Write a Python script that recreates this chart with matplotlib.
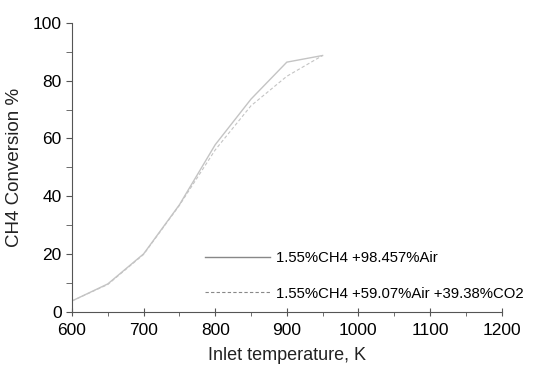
import matplotlib
matplotlib.use("Agg")
import matplotlib.pyplot as plt
from matplotlib.ticker import MultipleLocator

plt.rcParams['font.family'] = ['Liberation Sans', 'DejaVu Sans']

temps = [600, 650, 700, 750, 800, 850, 900, 950]
air = [3.7, 9.6, 20.0, 37.0, 57.8, 73.6, 86.4, 88.7]
co2 = [3.7, 9.4, 19.8, 36.8, 56.0, 71.3, 81.5, 88.7]
labels = ["1.55%CH4 +98.457%Air", "1.55%CH4 +59.07%Air +39.38%CO2"]

fig = plt.figure(figsize=(5.39, 3.75), dpi=100)
ax = fig.add_axes([0.1336, 0.169, 0.797, 0.770])
l1, = ax.plot(temps, air, color='#c4c4c4', lw=1.0, ls='-', label=labels[0])
l2, = ax.plot(temps, co2, color='#c4c4c4', lw=0.8, ls=(0, (3, 2)), label=labels[1])

ax.set_xlim(600, 1200)
ax.set_ylim(0, 100)
ax.xaxis.set_major_locator(MultipleLocator(100))
ax.xaxis.set_minor_locator(MultipleLocator(50))
ax.yaxis.set_major_locator(MultipleLocator(20))
ax.yaxis.set_minor_locator(MultipleLocator(10))
for s in ['top', 'right']:
    ax.spines[s].set_visible(False)
for s in ['left', 'bottom']:
    ax.spines[s].set_color('#555555')
    ax.spines[s].set_linewidth(0.8)
ax.tick_params(axis='x', which='major', direction='inout', length=6, color='#555555', labelsize=12.5, pad=5)
ax.tick_params(axis='x', which='minor', direction='out', length=3, color='#555555')
ax.tick_params(axis='y', which='major', direction='out', length=4, color='#555555', labelsize=12.5)
ax.tick_params(axis='y', which='minor', direction='out', length=4, color='#555555')
ax.set_xlabel("Inlet temperature, K", fontsize=13, color='#222222', labelpad=7)
ax.set_ylabel("CH4 Conversion %", fontsize=13.5, color='#222222', labelpad=7)

leg = ax.legend(loc='lower left', bbox_to_anchor=(0.278, -0.008), frameon=False,
                fontsize=10.7, handlelength=4.4, handletextpad=0.4, labelspacing=1.45)
for h in leg.legend_handles:
    h.set_color('#888888')

fig.savefig("out.png", dpi=100)
